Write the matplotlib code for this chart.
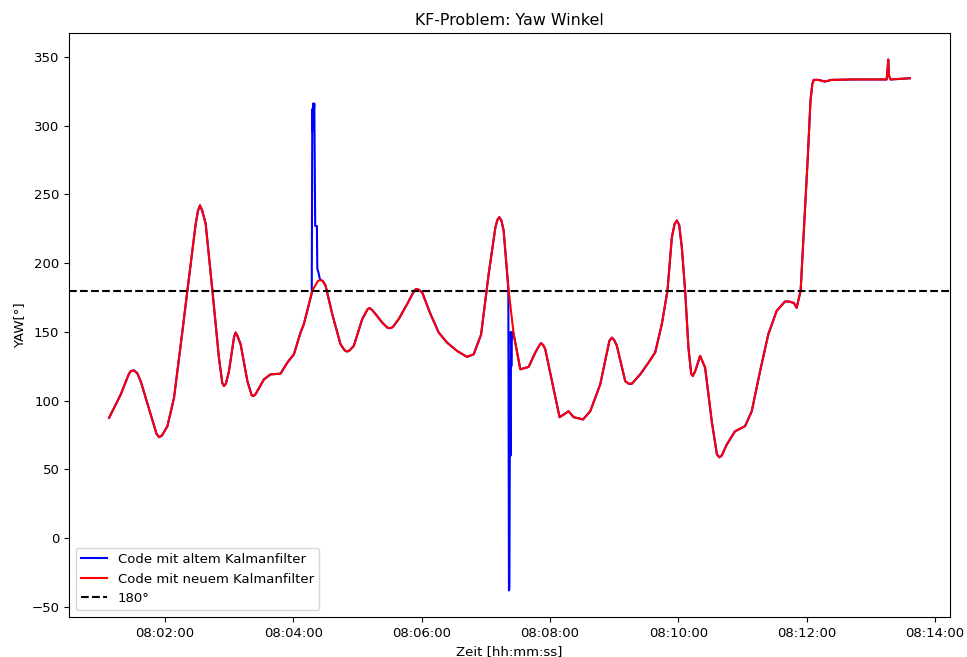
import numpy as np
import pandas as pd
import matplotlib
matplotlib.use("Agg")
import matplotlib.pyplot as plt
import matplotlib.dates as mdates

# Zeitpunkte in Sekunden nach 08:00:00 und Yaw-Werte
red_sec = [67.7, 78.6, 86, 88, 91, 94, 97.3, 106.6, 112, 114.4, 117, 122.2, 128.4, 136.3,
           140.9, 148.7, 150.8, 152.7, 154.8, 158, 164.3, 170.4, 173.5, 175.1, 177, 179.8,
           184.5, 186, 187.5, 190.7, 197, 201, 202.6, 204.5, 212.5, 218.7, 228, 234.3,
           240.5, 246.7, 249.8, 257.7, 263, 265.4, 267.5, 270.1, 276.3, 284.1, 288,
           290.3, 292.5, 296.5, 304.4, 309.5, 311.5, 313.5, 316.8, 323, 328, 330.8, 333,
           338.5, 346.4, 353, 355.1, 357.5, 360.4, 368.2, 375.9, 383.7, 393.1, 402.4,
           408.6, 415.5, 422.6, 428.9, 430.8, 432.6, 434.5, 436.6, 441.3, 446, 452.2, 460,
           466.2, 469.5, 471.5, 473.5, 475.5, 481.8, 488.9, 493, 497.3, 502, 510.8, 517.6,
           526.9, 535.5, 537.8, 540, 542.5, 550.3, 553.5, 556.5, 564.3, 572, 578.3, 584.5,
           589.8, 593.9, 596.5, 598.6, 600.8, 603.2, 606.3, 609.4, 612, 613.5, 616, 620.3,
           625, 631.2, 636, 638.3, 640.5, 645.2, 652.9, 662.3, 668.6, 676.4, 684.1, 691.9,
           699.7, 703.6, 708, 710.6, 714.3, 721, 723.5, 725.2, 726.5, 730.8, 737, 743.3,
           763.5, 794.7, 795.5, 796.2, 797, 798.4, 816.5]
red_yaw = [87.5, 104.5, 119, 121.5, 122, 120, 114, 90, 76, 73.4, 74.5, 81.4, 102, 150.7,
           180, 228.6, 238, 242, 238, 228.6, 180, 131.2, 113, 110.6, 112.5, 121.5,
           146, 149.5, 147.5, 141, 114.2, 104, 103.3, 104.5, 115.5, 119.1, 119.6, 127.6,
           133.7, 149.5, 155.6, 180, 187, 187.7, 187, 183.6, 163, 141, 136.5,
           135.7, 136.5, 139.8, 159.3, 166.5, 167.3, 166, 163, 156.8, 153, 152.7, 153.5,
           159.3, 170.2, 180, 181.2, 180.5, 178.7, 163, 149.5, 142.2, 136.1, 131.8,
           133.7, 148, 192, 226, 231.5, 233.4, 231, 223.7, 180, 148.3, 122.8, 124.5,
           135, 139.5, 141.8, 140.5, 137.4, 114.2, 88, 90, 92.3, 88, 86.3, 92.3,
           111.8, 143.5, 145.8, 144, 139.8, 114.2, 112.3, 112.3, 119.1, 127.6, 135, 155.6,
           180, 218.8, 228.5, 231, 227.5, 211.5, 180, 138.5, 119.5, 117.9, 122, 132.5,
           124, 85, 61, 58.8, 60, 68, 77.7, 81.4, 92.3, 121.5, 148.3, 165.3,
           172.1, 172, 171, 167.5, 180, 277, 318, 330, 333.2, 333.2, 332, 333.2,
           333.5, 333.5, 340, 348, 336, 333.5, 334.4]

# Ausreisser des alten Kalmanfilters
spike1_sec = [257.2, 257.7, 258.1, 258.6, 259.1, 259.6, 260.4, 262.0, 262.4, 263.5, 264.6]
spike1_yaw = [178, 312, 296, 316, 310, 316, 227, 227, 196, 193, 189]
spike2_sec = [441.0, 441.6, 442.0, 442.3, 442.6, 443.0, 443.3, 443.8, 444.3, 445.2]
spike2_yaw = [181, -38, -36, 60, 128, 60, 150, 125, 146, 150]

t0 = pd.Timestamp("2023-01-01 08:00:00")

def to_time(sec):
    return t0 + pd.to_timedelta(np.asarray(sec, dtype=float), unit="s")

# blaue Kurve = rote Kurve, in den Spike-Fenstern ersetzt
red = pd.DataFrame({"sec": red_sec, "yaw": red_yaw})
mask = ~(red["sec"].between(257.0, 265.0) | red["sec"].between(440.8, 445.5))
blue = pd.concat([red[mask],
                  pd.DataFrame({"sec": spike1_sec, "yaw": spike1_yaw}),
                  pd.DataFrame({"sec": spike2_sec, "yaw": spike2_yaw})])
blue = blue.sort_values("sec")

plt.rcParams["font.size"] = 9.5

fig = plt.figure(figsize=(9.67, 6.57), dpi=100)
ax = fig.add_axes([0.0714, 0.0609, 0.911, 0.8889])

ax.plot(to_time(blue["sec"]), blue["yaw"], color="blue", linewidth=1.5,
        label="Code mit altem Kalmanfilter")
ax.plot(to_time(red["sec"]), red["yaw"], color="red", linewidth=1.5,
        label="Code mit neuem Kalmanfilter")
ax.axhline(180, color="black", linestyle="--", linewidth=1.5, label="180°")

ax.xaxis.set_major_locator(mdates.MinuteLocator(byminute=range(0, 60, 2)))
ax.xaxis.set_major_formatter(mdates.DateFormatter("%H:%M:%S"))

ax.set_title("KF-Problem: Yaw Winkel")
ax.set_xlabel("Zeit [hh:mm:ss]")
ax.set_ylabel("YAW[°]")
ax.legend(loc="lower left")

fig.savefig("out.png", dpi=100)
